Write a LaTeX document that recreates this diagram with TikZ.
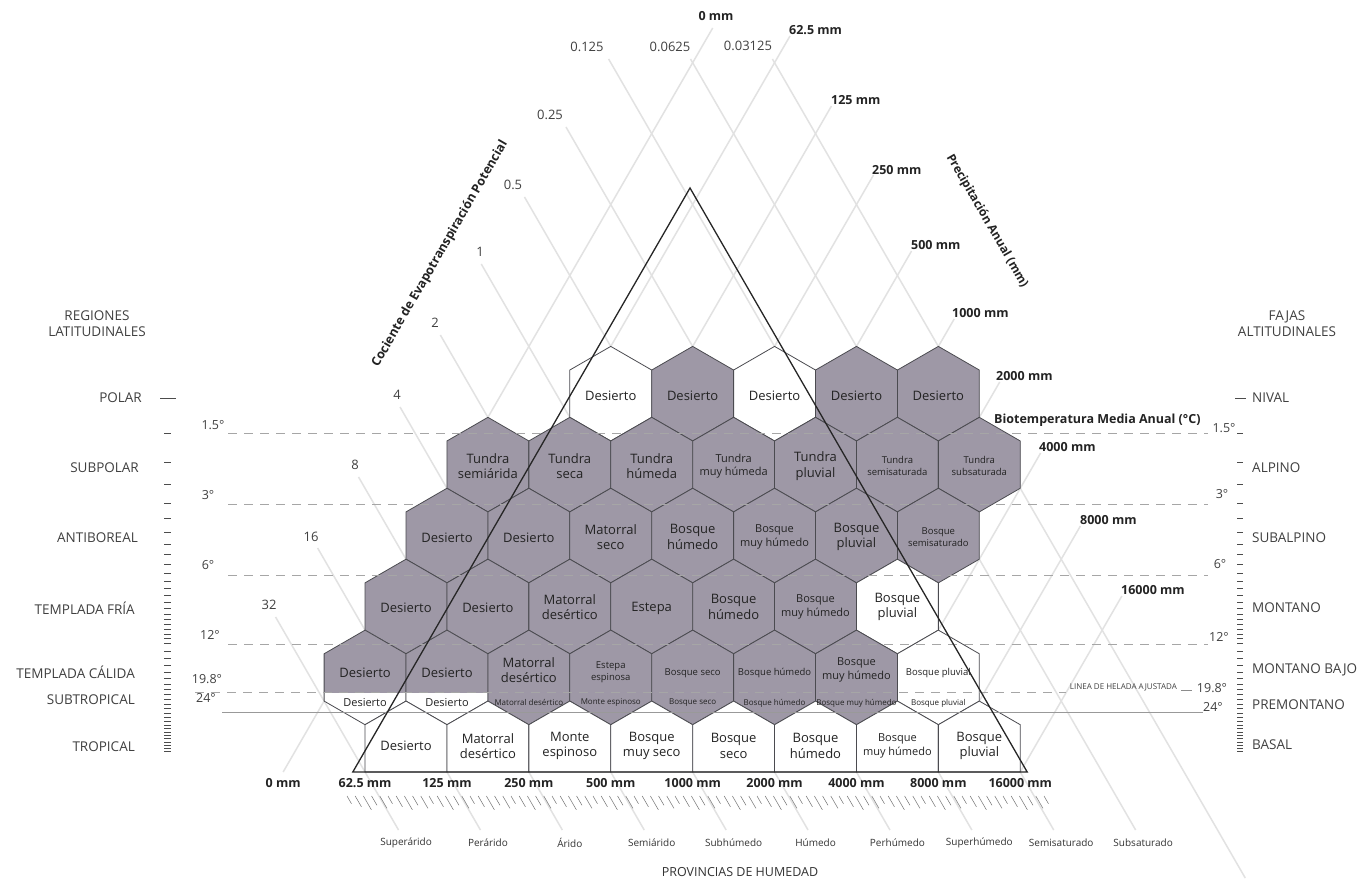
\documentclass[tikz,border=0pt]{standalone}
\usepackage{fontspec}
\setmainfont{Open Sans}
\definecolor{hexgray}{RGB}{158,152,166}
\definecolor{gridgray}{RGB}{226,226,226}
\definecolor{hexline}{RGB}{75,75,80}
\definecolor{txt}{RGB}{35,35,35}
\newcommand\hexat[3]{\path[#1] (#2,#3-47.29) -- ++(40.95,23.645) -- ++(0,47.29) -- ++(-40.95,23.645) -- ++(-40.95,-23.645) -- ++(0,-47.29) -- cycle;}
\newcommand\basehex[2]{\path[#1] (#2,701.065) -- ++(40.95,23.645) -- (#2+40.95,772) -- (#2-40.95,772) -- (#2-40.95,724.71) -- cycle;}
\begin{document}
\begin{tikzpicture}[x=1pt,y=-1pt,
  hexg/.style={fill=hexgray,draw=hexline,line width=0.8pt},
  hexw/.style={fill=white,draw=hexline,line width=0.8pt},
  gridline/.style={draw=gridgray,line width=1.5pt},
  tline/.style={draw=black!35,line width=0.9pt,dash pattern=on 9pt off 7pt},
  hl/.style={font=\fontsize{13}{15.5}\selectfont,align=center,inner sep=0pt,text=txt},
  hs/.style={font=\fontsize{11}{13.5}\selectfont,align=center,inner sep=0pt,text=txt},
  ht/.style={font=\fontsize{9.5}{11.5}\selectfont,align=center,inner sep=0pt,text=txt},
  hx/.style={font=\fontsize{8}{9.5}\selectfont,align=center,inner sep=0pt,text=txt},
  plab/.style={font=\bfseries\fontsize{12.5}{14}\selectfont,inner sep=0pt,text=txt},
  elab/.style={font=\fontsize{13}{15}\selectfont,inner sep=0pt,text=black!75},
  reg/.style={font=\fontsize{13.5}{16}\selectfont,inner sep=0pt,text=black!75,align=center},
  deg/.style={font=\fontsize{12.5}{14}\selectfont,inner sep=0pt,text=black!75},
  hum/.style={font=\fontsize{10}{12}\selectfont,inner sep=0pt,text=black!80},
  tick/.style={draw=black!70,line width=0.8pt},
  hatch/.style={draw=black!55,line width=0.5pt}]
\useasboundingbox[fill=white] (0,0) rectangle (1359,885);

% ---- lattice: PET lines (down-right) ----
\foreach \k/\ys/\ye in {0/617/830,1/548/830,2/477/830,3/407/830,4/335/830,5/264/830,6/197/830,7/127/830,8/59/830,9/59/830,10/59/878}
  \draw[gridline] ({365.05+81.9*\k-(772-\ys)*0.57735},\ys) -- ({365.05+81.9*\k+(\ye-772)*0.57735},\ye);
% ---- lattice: precipitation lines (up-right) ----
\foreach \j/\ye in {0/28,1/36,2/106,3/175,4/251,5/319,6/382,7/453,8/526,9/596}
  \draw[gridline] ({283.15+81.9*\j},772) -- ({283.15+81.9*\j+(772-\ye)*0.57735},\ye);

% ---- hexagons ----
\hexat{hexw}{610.75}{393.68}
\hexat{hexg}{692.65}{393.68}
\hexat{hexw}{774.55}{393.68}
\hexat{hexg}{856.45}{393.68}
\hexat{hexg}{938.35}{393.68}
\foreach \x in {487.9,569.8,651.7,733.6,815.5,897.4,979.3} {\hexat{hexg}{\x}{464.615}}
\foreach \x in {446.95,528.85,610.75,692.65,774.55,856.45,938.35} {\hexat{hexg}{\x}{535.55}}
\foreach \x in {406,487.9,569.8,651.7,733.6,815.5} {\hexat{hexg}{\x}{606.485}}
\hexat{hexw}{897.4}{606.485}
\foreach \x in {365.05,446.95} {
  \hexat{fill=white}{\x}{677.42}
  \begin{scope}\clip (0,0) rectangle (1359,692.5);
    \hexat{fill=hexgray}{\x}{677.42}
  \end{scope}
  \hexat{draw=hexline,line width=0.8pt}{\x}{677.42}
}
\foreach \x in {528.85,610.75,692.65,774.55,856.45} {\hexat{hexg}{\x}{677.42}}
\hexat{hexw}{938.35}{677.42}
\foreach \x in {406,487.9,569.8,651.7,733.6,815.5,897.4,979.3} {\basehex{hexw}{\x}}

% ---- temperature lines ----
\draw[tline] (228,433) -- (1208,433);
\draw[tline] (228,504) -- (1208,504);
\draw[tline] (228,575) -- (1208,575);
\draw[tline] (228,644) -- (1208,644);
\draw[tline] (195,692) -- (1066,692);
\draw[draw=black!45,line width=0.8pt] (1181,690) -- (1192,690);
\draw[draw=black!40,line width=0.7pt] (222,712) -- (1203,712);

% ---- main triangle ----
\coordinate (apex) at (690,188);
\coordinate (bl) at (352.8,772);
\coordinate (br) at (1027.2,772);
\draw[line width=1.3pt,black!85] (apex) -- (br) -- (bl) -- cycle;

% ---- hex labels ----
\foreach \x/\n in {610.75/a,692.65/b,774.55/c,856.45/d,938.35/e}
  \node[hl] (p\n) at (\x,396) {Desierto};
\node[hl] (s1) at (487.9,466) {Tundra\\semiárida};
\node[hl] (s2) at (569.8,466) {Tundra\\seca};
\node[hl] (s3) at (651.7,466) {Tundra\\húmeda};
\node[hs] (s4) at (733.6,466) {Tundra\\muy húmeda};
\node[hl] (s5) at (815.5,466) {Tundra\\pluvial};
\node[ht] (s6) at (897.4,466) {Tundra\\semisaturada};
\node[ht] (s7) at (979.3,466) {Tundra\\subsaturada};
\node[hl] (a1) at (446.95,538) {Desierto};
\node[hl] (a2) at (528.85,538) {Desierto};
\node[hl] (a3) at (610.75,537) {Matorral\\seco};
\node[hl] (a4) at (692.65,537) {Bosque\\húmedo};
\node[hs] (a5) at (774.55,537) {Bosque\\muy húmedo};
\node[hl] (a6) at (856.45,537) {Bosque\\pluvial};
\node[ht] (a7) at (938.35,537) {Bosque\\semisaturado};
\node[hl] (f1) at (406,608) {Desierto};
\node[hl] (f2) at (487.9,608) {Desierto};
\node[hl] (f3) at (569.8,607) {Matorral\\desértico};
\node[hl] (f4) at (651.7,608) {Estepa};
\node[hl] (f5) at (733.6,607) {Bosque\\húmedo};
\node[hs] (f6) at (815.5,607) {Bosque\\muy húmedo};
\node[hl] (f7) at (897.4,607) {Bosque\\pluvial};
\node[hl] (c1) at (365.05,673) {Desierto};
\node[hl] (c2) at (446.95,673) {Desierto};
\node[hl] (c3) at (528.85,670) {Matorral\\desértico};
\node[ht] (c4) at (610.75,672) {Estepa\\espinosa};
\node[ht] (c5) at (692.65,673) {Bosque seco};
\node[ht] (c6) at (774.55,673) {Bosque húmedo};
\node[hs] (c7) at (856.45,670) {Bosque\\muy húmedo};
\node[ht] (c8) at (938.35,673) {Bosque pluvial};
\node[hs] (t1) at (365.05,703) {Desierto};
\node[hs] (t2) at (446.95,703) {Desierto};
\node[hx] (t3) at (528.85,702) {Matorral desértico};
\node[hx] (t4) at (610.75,703) {Monte espinoso};
\node[hx] (t5) at (692.65,703) {Bosque seco};
\node[hx] (t6) at (774.55,703) {Bosque húmedo};
\node[hx] (t7) at (856.45,703) {Bosque muy húmedo};
\node[hx] (t8) at (938.35,703) {Bosque pluvial};
\node[hl] (b1) at (406,746) {Desierto};
\node[hl] (b2) at (487.9,746) {Matorral\\desértico};
\node[hl] (b3) at (569.8,746) {Monte\\espinoso};
\node[hl] (b4) at (651.7,746) {Bosque\\muy seco};
\node[hl] (b5) at (733.6,746) {Bosque\\seco};
\node[hl] (b6) at (815.5,746) {Bosque\\húmedo};
\node[hs] (b7) at (897.4,746) {Bosque\\muy húmedo};
\node[hl] (b8) at (979.3,746) {Bosque\\pluvial};

% ---- PET labels ----
\node[elab] (e32) at (269,605) {32};
\node[elab] (e16) at (311,537) {16};
\node[elab] (e8) at (355,465) {8};
\node[elab] (e4) at (397,395) {4};
\node[elab] (e2) at (435,323) {2};
\node[elab] (e1) at (480,252) {1};
\node[elab] (e05) at (513,185) {0.5};
\node[elab] (e025) at (550,115) {0.25};
\node[elab] (e0125) at (587,47) {0.125};
\node[elab] (e00625) at (670,47) {0.0625};
\node[elab] (e003125) at (748,46) {0.03125};

% ---- precipitation labels (right) ----
\node[plab] (ptop) at (716,16) {0 mm};
\node[plab,anchor=west] (q1) at (789,30) {62.5 mm};
\node[plab,anchor=west] (q2) at (831,100) {125 mm};
\node[plab,anchor=west] (q3) at (872,170) {250 mm};
\node[plab,anchor=west] (q4) at (911,245) {500 mm};
\node[plab,anchor=west] (q5) at (952,313) {1000 mm};
\node[plab,anchor=west] (q6) at (996,376) {2000 mm};
\node[plab,anchor=west] (q7) at (1039,447) {4000 mm};
\node[plab,anchor=west] (q8) at (1080,520) {8000 mm};
\node[plab,anchor=west] (q9) at (1121,590) {16000 mm};

% ---- base precipitation labels ----
\foreach \j/\t in {0/0 mm,1/62.5 mm,2/125 mm,3/250 mm,4/500 mm,5/1000 mm,6/2000 mm,7/4000 mm,8/8000 mm,9/16000 mm}
  \node[plab] (base\j) at ({283.15+81.9*\j},783) {\t};

% ---- axis titles ----
\node[font=\bfseries\fontsize{12.5}{14}\selectfont,rotate=60,text=txt,inner sep=0pt] (cep) at (440,254) {Cociente de Evapotranspiración Potencial};
\node[font=\bfseries\fontsize{12}{14}\selectfont,rotate=-60,text=txt,inner sep=0pt] (paa) at (987,221) {Precipitación Anual (mm)};
\node[font=\bfseries\fontsize{12.5}{14}\selectfont,text=txt,inner sep=0pt,anchor=west] (bio) at (994,420) {Biotemperatura Media Anual (°C)};

% ---- left scale ----
\node[reg] (regl) at (97,324) {REGIONES\\LATITUDINALES};
\node[reg,anchor=east] (l1) at (142,398) {POLAR};
\node[reg,anchor=east] (l2) at (139,468) {SUBPOLAR};
\node[reg,anchor=east] (l3) at (138,538) {ANTIBOREAL};
\node[reg,anchor=east] (l4) at (135,608) {TEMPLADA FRÍA};
\node[reg,anchor=east] (l5) at (135,672) {TEMPLADA CÁLIDA};
\node[reg,anchor=east] (l6) at (135,700) {SUBTROPICAL};
\node[reg,anchor=east] (l7) at (135,747) {TROPICAL};
\draw[tick] (160,398) -- (176,398);
\draw[tick] (1235,398) -- (1246,398);
\foreach \t in {1.5,2,...,12,13,14,...,35} {
  \draw[tick] (164,{433+100.99*ln(\t/1.5)}) -- (171,{433+100.99*ln(\t/1.5)});
  \draw[tick] (1237,{433+100.99*ln(\t/1.5)}) -- (1243,{433+100.99*ln(\t/1.5)});
}
% ---- right scale ----
\node[reg] (regr) at (1287,324) {FAJAS\\ALTITUDINALES};
\node[reg,anchor=west] (r1) at (1252,398) {NIVAL};
\node[reg,anchor=west] (r2) at (1252,468) {ALPINO};
\node[reg,anchor=west] (r3) at (1252,538) {SUBALPINO};
\node[reg,anchor=west] (r4) at (1252,608) {MONTANO};
\node[reg,anchor=west] (r5) at (1252,670) {MONTANO BAJO};
\node[reg,anchor=west] (r6) at (1252,705) {PREMONTANO};
\node[reg,anchor=west] (r7) at (1252,745) {BASAL};

% ---- temperature labels ----
\node[deg] (dl1) at (213,425) {1.5°};
\node[deg] (dl2) at (208,495) {3°};
\node[deg] (dl3) at (208,565) {6°};
\node[deg] (dl4) at (210,635) {12°};
\node[deg] (dl5) at (207,679) {19.8°};
\node[deg] (dl6) at (206,698) {24°};
\node[deg] (dr1) at (1224,428) {1.5°};
\node[deg] (dr2) at (1222,494) {3°};
\node[deg] (dr3) at (1220,564) {6°};
\node[deg] (dr4) at (1219,637) {12°};
\node[deg] (dr5) at (1212,688) {19.8°};
\node[deg] (dr6) at (1213,707) {24°};
\node[font=\fontsize{8}{9}\selectfont,text=black!75,inner sep=0pt,anchor=east] (lha) at (1177,687) {LINEA DE HELADA AJUSTADA};

% ---- humidity provinces ----
\foreach \i in {0,...,85} {
  \pgfmathsetmacro\hl{9+7*mod(\i*7,5)/4}
  \draw[hatch] ({347+8.2*\i},796) -- ++({\hl*0.5},{\hl*0.866});
}
\foreach \k/\t in {0/Superárido,1/Perárido,2/Árido,3/Semiárido,4/Subhúmedo,5/Húmedo,6/Perhúmedo,7/Superhúmedo,8/Semisaturado,9/Subsaturado}
  \node[hum] (hp\k) at ({406.05+81.9*\k},843) {\t};
\node[font=\fontsize{12.5}{14}\selectfont,text=black!80,inner sep=0pt] (prov) at (740,872) {PROVINCIAS DE HUMEDAD};
\end{tikzpicture}
\end{document}
